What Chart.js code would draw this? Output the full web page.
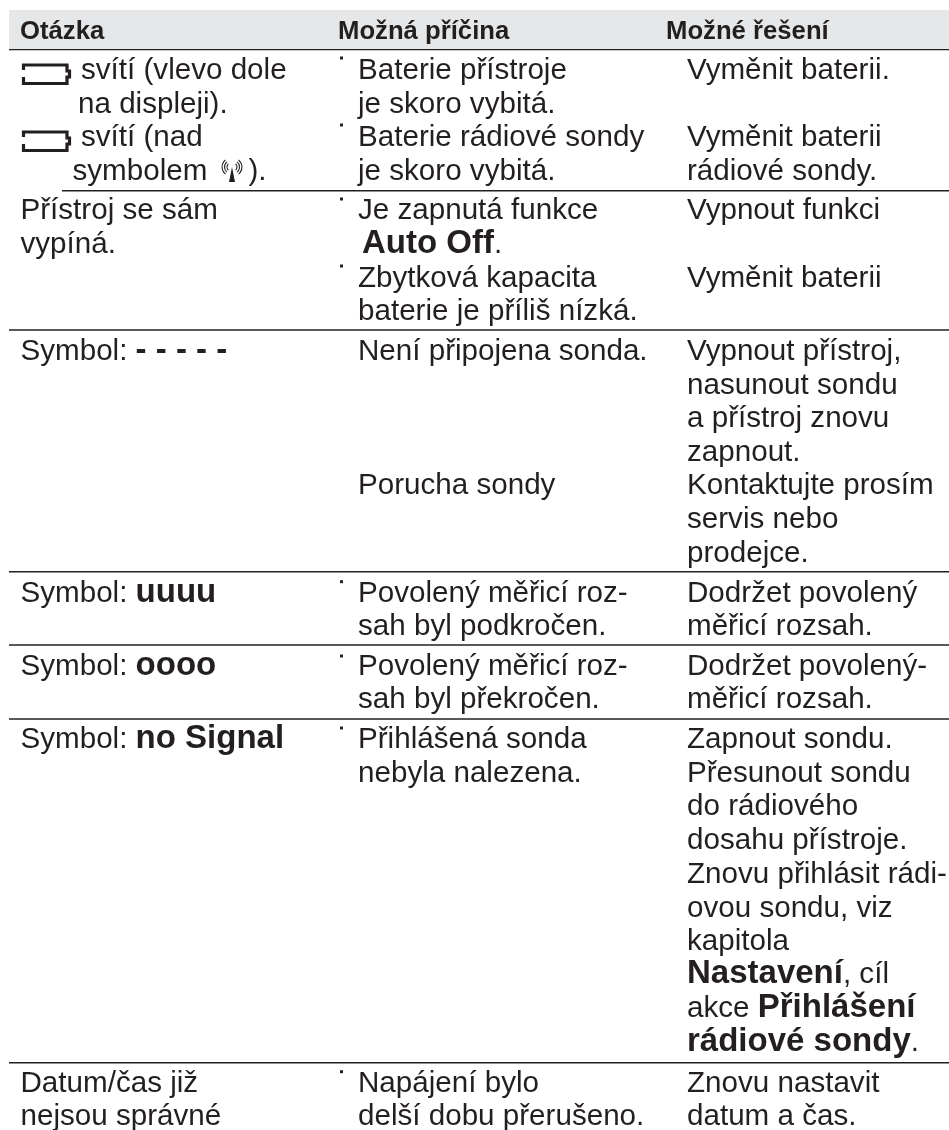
<!DOCTYPE html>
<html>
<head>
<meta charset="utf-8">
<title>Otázka / Možná příčina / Možné řešení</title>
<script src="https://cdn.jsdelivr.net/npm/chart.js@4"></script>
<style>
    html, body { margin: 0; padding: 0; background: #fff; }
    canvas { display: block; }
</style>
</head>
<body>
<canvas id="tableChart" width="949" height="1130"></canvas>
<script>
// Table values. The scales run in picture units.
// Each line is [x, baseline, text]; **text** marks bold.
const headerLabels = [[20, 38.7, 'Otázka'], [338, 38.7, 'Možná příčina'], [666, 38.7, 'Možné řešení']];

const questionLines = [
    [81, 78.7, 'svítí (vlevo dole'],
    [78, 112.5, 'na displeji).'],
    [81, 145.7, 'svítí (nad'],
    [72.5, 180, 'symbolem'],
    [248.5, 180, ').'],
    [20.5, 219.3, 'Přístroj se sám'],
    [20.5, 252.7, 'vypíná.'],
    [20.5, 360, 'Symbol: **- - - - -**'],
    [20.5, 601.7, 'Symbol: **uuuu**'],
    [20.5, 675, 'Symbol: **oooo**'],
    [20.5, 748.3, 'Symbol: **no Signal**'],
    [20.5, 1091.7, 'Datum/čas již'],
    [20.5, 1125, 'nejsou správné']
];

const causeLines = [
    [358, 78.7, 'Baterie přístroje'],
    [358, 112.5, 'je skoro vybitá.'],
    [358, 145.7, 'Baterie rádiové sondy'],
    [358, 180, 'je skoro vybitá.'],
    [358, 219.3, 'Je zapnutá funkce'],
    [362, 252.7, '**Auto Off**.'],
    [358, 286.7, 'Zbytková kapacita'],
    [358, 320, 'baterie je příliš nízká.'],
    [358, 360, 'Není připojena sonda.'],
    [358, 494, 'Porucha sondy'],
    [358, 601.7, 'Povolený měřicí roz-'],
    [358, 635, 'sah byl podkročen.'],
    [358, 675, 'Povolený měřicí roz-'],
    [358, 708.3, 'sah byl překročen.'],
    [358, 748.3, 'Přihlášená sonda'],
    [358, 781.7, 'nebyla nalezena.'],
    [358, 1091.7, 'Napájení bylo'],
    [358, 1125, 'delší dobu přerušeno.']
];

const remedyLines = [
    [687, 78.7, 'Vyměnit baterii.'],
    [687, 145.7, 'Vyměnit baterii'],
    [687, 180, 'rádiové sondy.'],
    [687, 219.3, 'Vypnout funkci'],
    [687, 286.7, 'Vyměnit baterii'],
    [687, 360, 'Vypnout přístroj,'],
    [687, 393.5, 'nasunout sondu'],
    [687, 427.3, 'a přístroj znovu'],
    [687, 460.7, 'zapnout.'],
    [687, 494, 'Kontaktujte prosím'],
    [687, 528, 'servis nebo'],
    [687, 561.7, 'prodejce.'],
    [687, 601.7, 'Dodržet povolený'],
    [687, 635, 'měřicí rozsah.'],
    [687, 675, 'Dodržet povolený-'],
    [687, 708.3, 'měřicí rozsah.'],
    [687, 748.3, 'Zapnout sondu.'],
    [687, 781.7, 'Přesunout sondu'],
    [687, 815, 'do rádiového'],
    [687, 849.3, 'dosahu přístroje.'],
    [687, 883.3, 'Znovu přihlásit rádi-'],
    [687, 916.7, 'ovou sondu, viz'],
    [687, 950, 'kapitola'],
    [687, 983.3, '**Nastavení**, cíl'],
    [687, 1017.3, 'akce **Přihlášení**'],
    [687, 1050.7, '**rádiové sondy**.'],
    [687, 1091.7, 'Znovu nastavit'],
    [687, 1125, 'datum a čas.']
];

// Row rules: [start x, y]
const rowRules = [[9, 49.5], [62, 190.7], [9, 330], [9, 571.7], [9, 645], [9, 719], [9, 1062.7]];
const bulletMarks = [58, 125, 199, 266, 581.7, 656, 728, 1071.7];
const batteryIcons = [65, 132];
const INK = '#231f20';
const FONT = '"Liberation Sans", Arial, sans-serif';

function ruleDataset(rule) {
    return {
        type: 'line',
        data: [{ x: rule[0], y: rule[1] }, { x: 949, y: rule[1] }],
        borderColor: INK,
        borderWidth: 1.5,
        pointRadius: 0
    };
}

// Battery outline, one open stroke leaving a gap in the left edge
function batteryDataset(top) {
    const points = [[23.5, top + 5], [23.5, top], [67, top], [67, top + 6], [69.5, top + 6], [69.5, top + 12], [67, top + 12], [67, top + 18.5], [23.5, top + 18.5], [23.5, top + 12]];
    return {
        type: 'line',
        data: points.map(p => ({ x: p[0], y: p[1] })),
        borderColor: INK,
        borderWidth: 3.2,
        pointRadius: 0
    };
}

const lineTextPlugin = {
    id: 'lineText',
    afterDatasetsDraw(chart) {
        const ctx = chart.ctx;
        const xScale = chart.scales.x;
        const yScale = chart.scales.y;

        function drawLine(line, normalFont, boldFont) {
            let x = xScale.getPixelForValue(line[0]);
            const y = yScale.getPixelForValue(line[1]);
            line[2].split('**').forEach((run, i) => {
                ctx.font = i % 2 ? boldFont : normalFont;
                ctx.fillText(run, x, y);
                x += ctx.measureText(run).width;
            });
        }

        ctx.save();
        ctx.fillStyle = INK;
        ctx.textBaseline = 'alphabetic';
        ctx.textAlign = 'left';
        headerLabels.forEach(l => drawLine(l, 'bold 25.7px ' + FONT, 'bold 25.7px ' + FONT));
        [questionLines, causeLines, remedyLines].forEach(lines => {
            lines.forEach(l => drawLine(l, '29.6px ' + FONT, 'bold 33px ' + FONT));
        });

        // Radio symbol next to "symbolem"
        const cx = xScale.getPixelForValue(232);
        const cy = yScale.getPixelForValue(167);
        ctx.beginPath();
        ctx.moveTo(cx, cy);
        ctx.lineTo(cx + 3, cy + 15);
        ctx.lineTo(cx - 3, cy + 15);
        ctx.closePath();
        ctx.fill();
        ctx.strokeStyle = INK;
        ctx.lineWidth = 1.1;
        [4, 6.5, 9].forEach(r => {
            ctx.beginPath();
            ctx.arc(cx + 1, cy, r, -0.9, 0.9);
            ctx.stroke();
            ctx.beginPath();
            ctx.arc(cx - 1, cy, r, Math.PI - 0.9, Math.PI + 0.9);
            ctx.stroke();
        });
        ctx.restore();
    }
};

new Chart(document.getElementById('tableChart'), {
    type: 'scatter',
    data: {
        datasets: [
            {
                // Header band
                type: 'line',
                data: [{ x: 9, y: 10 }, { x: 949, y: 10 }],
                borderWidth: 0,
                pointRadius: 0,
                backgroundColor: '#e6e7e8',
                fill: { value: 49 }
            },
            ...rowRules.map(ruleDataset),
            ...batteryIcons.map(batteryDataset),
            {
                data: bulletMarks.map(y => ({ x: 341.5, y: y })),
                pointStyle: 'rect',
                pointRadius: 2.1,
                backgroundColor: INK,
                borderWidth: 0
            }
        ]
    },
    options: {
        responsive: false,
        animation: false,
        layout: { padding: 0, autoPadding: false },
        scales: {
            x: { type: 'linear', min: 0, max: 949, display: false },
            y: { type: 'linear', min: 0, max: 1130, reverse: true, display: false }
        },
        plugins: {
            legend: { display: false },
            tooltip: { enabled: false }
        }
    },
    plugins: [lineTextPlugin]
});
</script>
</body>
</html>
